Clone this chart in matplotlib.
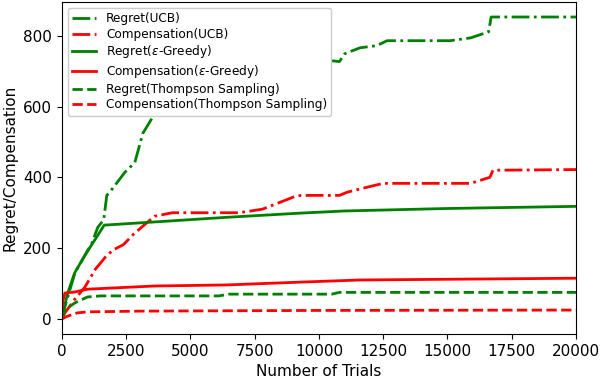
import matplotlib
matplotlib.use("Agg")
from matplotlib import pyplot as plt

# Regret(UCB)
ucb_reg_x = [0, 120, 510, 1170, 1400, 1630, 1750, 1980, 2450, 2840, 3150, 3500,
             4000, 5000, 6000, 7000, 8000, 9000, 10430, 10800, 11000, 11600,
             12250, 12650, 15100, 15900, 16600, 16700, 20000]
ucb_reg_y = [0, 34, 130, 214, 259, 280, 349, 369, 414, 442, 524, 566,
             600, 650, 680, 700, 715, 725, 730, 727, 749, 766,
             772, 786, 786, 794, 811, 853, 853]

# Compensation(UCB)
ucb_comp_x = [0, 120, 500, 900, 1300, 1700, 2000, 2400, 2800, 3200, 3600, 4300,
              6900, 7800, 8400, 9000, 9300, 10800, 11100, 11700, 12500, 15900,
              16650, 16770, 20000]
ucb_comp_y = [0, 17, 55, 90, 140, 175, 195, 210, 240, 265, 290, 300,
              300, 310, 327, 344, 349, 349, 358, 369, 383, 383,
              400, 420, 422]

# Regret(eps-Greedy)
eg_reg_x = [0, 40, 230, 500, 900, 1300, 1650, 3400, 6400, 9300, 11000, 15000, 20000]
eg_reg_y = [0, 17, 73, 130, 180, 225, 265, 273, 287, 299, 305, 312, 318]

# Compensation(eps-Greedy)
eg_comp_x = [0, 40, 120, 500, 1000, 3600, 6400, 9300, 11600, 20000]
eg_comp_y = [0, 50, 73, 76, 84, 93, 96, 104, 110, 115]

# Regret(Thompson Sampling)
ts_reg_x = [0, 120, 500, 1000, 1500, 6100, 6500, 10500, 10800, 20000]
ts_reg_y = [0, 25, 45, 62, 65, 65, 70, 70, 75, 75]

# Compensation(Thompson Sampling)
ts_comp_x = [0, 200, 600, 1000, 3000, 10000, 20000]
ts_comp_y = [0, 7, 17, 20, 22, 24, 25]


def plot_data(fname):
    """plot results"""
    plt.rcParams["font.size"] = 11
    fig = plt.figure(figsize=(6, 3.8), dpi=100)
    ax = fig.add_axes([0.103, 0.121, 0.857, 0.874])
    lw = 2
    ax.plot(ucb_reg_x, ucb_reg_y, "g-.", lw=lw, label="Regret(UCB)")
    ax.plot(ucb_comp_x, ucb_comp_y, "r-.", lw=lw, label="Compensation(UCB)")
    ax.plot(eg_reg_x, eg_reg_y, "g-", lw=lw, label=r"Regret($\epsilon$-Greedy)")
    ax.plot(eg_comp_x, eg_comp_y, "r-", lw=lw, label=r"Compensation($\epsilon$-Greedy)")
    ax.plot(ts_reg_x, ts_reg_y, "g--", lw=lw, label="Regret(Thompson Sampling)")
    ax.plot(ts_comp_x, ts_comp_y, "r--", lw=lw, label="Compensation(Thompson Sampling)")
    ax.set_xlim(0, 20000)
    ax.set_xticks([0, 2500, 5000, 7500, 10000, 12500, 15000, 17500, 20000])
    ax.set_yticks([0, 200, 400, 600, 800])
    ax.set_xlabel("Number of Trials")
    ax.set_ylabel("Regret/Compensation")
    ax.legend(loc="upper left", framealpha=1, fontsize=8.7, labelspacing=0.22,
              borderpad=0.35)
    fig.savefig(fname)
    plt.close(fig)


if __name__ == "__main__":
    plot_data("out.png")
